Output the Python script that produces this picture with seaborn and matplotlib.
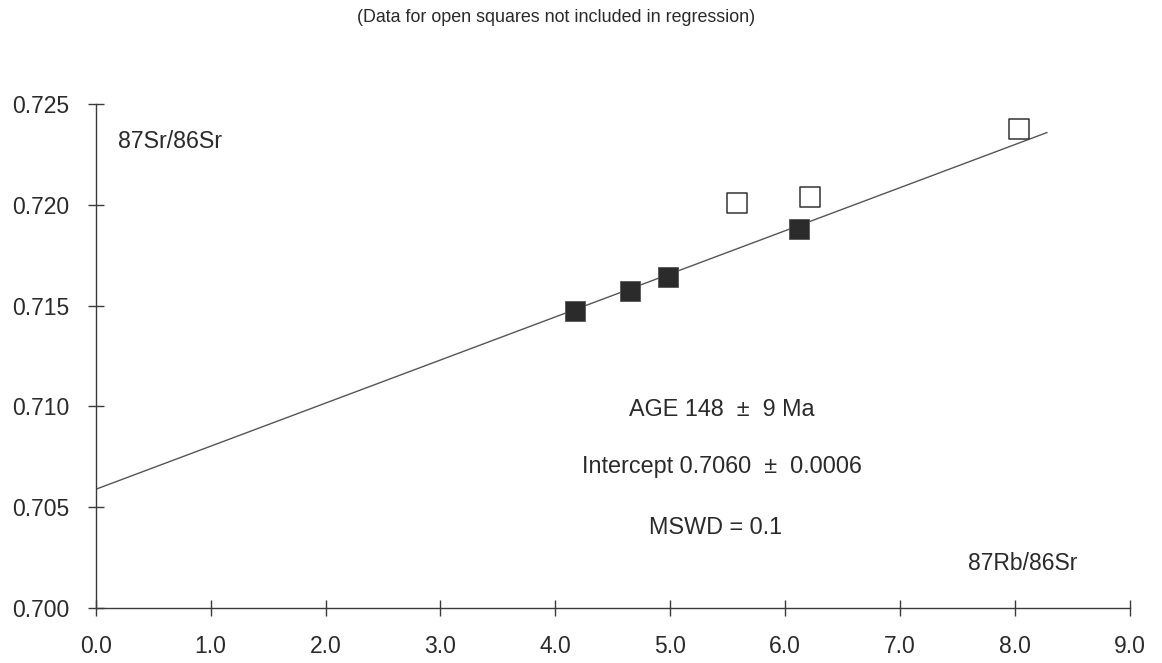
import matplotlib
matplotlib.use("Agg")
import matplotlib.pyplot as plt
import seaborn as sns
import pandas as pd

# ---- data ----
filled_x = [4.17, 4.65, 4.98, 6.12]
filled_y = [0.71475, 0.71572, 0.71641, 0.71879]
open_x = [5.58, 6.22, 8.04]
open_y = [0.72011, 0.72038, 0.72378]
fit_intercept = 0.70588
fit_slope = 0.00214
fit_x = [0.0, 8.28]
x_ticks = [0, 1, 2, 3, 4, 5, 6, 7, 8, 9]
x_tick_labels = ["0.0", "1.0", "2.0", "3.0", "4.0", "5.0", "6.0", "7.0", "8.0", "9.0"]
y_ticks = [0.700, 0.705, 0.710, 0.715, 0.720, 0.725]
y_tick_labels = ["0.700", "0.705", "0.710", "0.715", "0.720", "0.725"]
title = "(Data for open squares not included in regression)"
y_label = "87Sr/86Sr"
x_label = "87Rb/86Sr"
annotations = ["AGE 148  \u00b1  9 Ma", "Intercept 0.7060  \u00b1  0.0006", "MSWD = 0.1"]

sns.set_style("white")
plt.rcParams["font.family"] = ["Liberation Sans", "DejaVu Sans"]

fig = plt.figure(figsize=(11.62, 6.63), dpi=100)
W, H = 1162, 663
x0, x1 = 95.7, 95.7 + 9 * 114.9
y0, y1 = 607.7, 104.3
ax = fig.add_axes([x0 / W, (H - y0) / H, (x1 - x0) / W, (y0 - y1) / H])

txt = "#2a2a2a"
axc = "#3a3a3a"

fit_df = pd.DataFrame({"x": fit_x, "y": [fit_intercept + fit_slope * v for v in fit_x]})
sns.lineplot(data=fit_df, x="x", y="y", ax=ax, color="#555555", linewidth=1.0, zorder=2)

fdf = pd.DataFrame({"x": filled_x, "y": filled_y})
sns.scatterplot(data=fdf, x="x", y="y", ax=ax, marker="s", s=225, color="#2b2b2b",
                edgecolor="#555555", linewidth=0.6, zorder=3, clip_on=False)
odf = pd.DataFrame({"x": open_x, "y": open_y})
sns.scatterplot(data=odf, x="x", y="y", ax=ax, marker="s", s=190, facecolor="white",
                edgecolor="#333333", linewidth=1.1, zorder=3, clip_on=False)

ax.set_xlim(0, 9)
ax.set_ylim(0.700, 0.725)
ax.set_xticks(x_ticks)
ax.set_xticklabels(x_tick_labels)
ax.set_yticks(y_ticks)
ax.set_yticklabels(y_tick_labels)
ax.set_xlabel("")
ax.set_ylabel("")
for s in ["top", "right"]:
    ax.spines[s].set_visible(False)
for s in ["left", "bottom"]:
    ax.spines[s].set_color(axc)
    ax.spines[s].set_linewidth(1.0)
ax.tick_params(axis="both", which="major", bottom=True, left=True, direction="inout",
               length=11.5, width=1.0, color=axc, labelsize=16.5, labelcolor=txt)
ax.tick_params(axis="y", pad=13)
ax.tick_params(axis="x", pad=14)

fig.text(556 / W, 1 - 17 / H, title, ha="center", va="center", fontsize=12.9, color=txt)
fig.text(118 / W, 1 - 141 / H, y_label, ha="left", va="center", fontsize=16.7, color=txt)
fig.text(1077 / W, 1 - 563 / H, x_label, ha="right", va="center", fontsize=16.5, color=txt)
for t, (cx, cy) in zip(annotations, [(722, 410), (722, 466), (716, 527)]):
    fig.text(cx / W, 1 - cy / H, t, ha="center", va="center", fontsize=16.8, color=txt)

fig.savefig("out.png", dpi=100)
